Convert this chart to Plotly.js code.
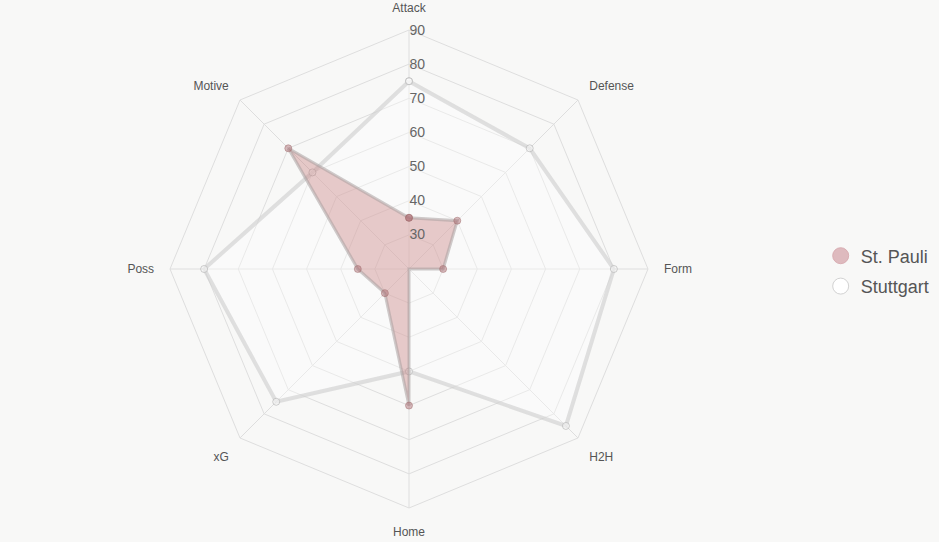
<!DOCTYPE html>
<html>
<head>
<meta charset="utf-8">
<script src="https://cdn.plot.ly/plotly-3.0.1.min.js"></script>
<style>html,body{margin:0;padding:0;background:#f8f8f7;}#chart{width:939px;height:542px;}</style>
</head>
<body>
<div id="chart"></div>
<script>
const categories = ["Attack", "Defense", "Form", "H2H", "Home", "xG", "Poss", "Motive"];
const stPauli = [35, 40, 30, 20, 60, 30, 35, 70];
const stuttgart = [75, 70, 80, 85, 50, 75, 80, 60];
const radialTicks = [30, 40, 50, 60, 70, 80, 90];

const closeLoop = a => a.concat([a[0]]);

const traces = [
  {
    type: "scatterpolar",
    name: "Stuttgart",
    r: closeLoop(stuttgart),
    theta: closeLoop(categories),
    mode: "lines+markers",
    fill: "toself",
    fillcolor: "rgba(255,255,255,0.35)",
    line: {color: "rgba(205,205,205,0.6)", width: 4},
    marker: {size: 7, color: "rgba(255,255,255,0.4)", line: {color: "rgba(190,190,190,0.8)", width: 1}},
    showlegend: false,
    hoverinfo: "skip"
  },
  {
    type: "scatterpolar",
    name: "St. Pauli",
    r: closeLoop(stPauli),
    theta: closeLoop(categories),
    mode: "lines+markers",
    fill: "toself",
    fillcolor: "rgba(196,120,120,0.38)",
    line: {color: "rgba(170,160,160,0.55)", width: 3},
    marker: {size: 7, color: "rgba(170,105,110,0.45)", line: {color: "rgba(160,110,110,0.5)", width: 1}},
    showlegend: false,
    hoverinfo: "skip"
  },
  {
    type: "scatterpolar",
    name: "St. Pauli",
    legendgroup: "a",
    r: [null], theta: [null],
    mode: "markers",
    marker: {size: 16, color: "rgba(215,170,175,0.8)", line: {color: "rgba(215,170,175,0.9)", width: 1}},
    showlegend: true
  },
  {
    type: "scatterpolar",
    name: "Stuttgart",
    legendgroup: "b",
    r: [null], theta: [null],
    mode: "markers",
    marker: {size: 16, color: "rgba(255,255,255,0.9)", line: {color: "rgba(210,210,210,1)", width: 1}},
    showlegend: true
  }
];

const layout = {
  width: 939,
  height: 542,
  margin: {l: 0, r: 0, t: 0, b: 0},
  paper_bgcolor: "#f8f8f7",
  plot_bgcolor: "#f8f8f7",
  font: {family: "Liberation Sans, Arial, sans-serif", color: "#555"},
  showlegend: true,
  legend: {
    x: 0.874, y: 0.5, xanchor: "left", yanchor: "middle",
    font: {size: 18, color: "#555"},
    bgcolor: "rgba(0,0,0,0)",
    tracegroupgap: 4
  },
  polar: {
    domain: {x: [170/939, 648/939], y: [1 - 508/542, 1 - 30/542]},
    bgcolor: "rgba(0,0,0,0)",
    gridshape: "linear",
    radialaxis: {
      range: [20, 90],
      tickvals: radialTicks,
      angle: 90,
      tickangle: 90,
      showline: false,
      ticks: "",
      gridcolor: "#dedede",
      gridwidth: 1,
      tickfont: {size: 14, color: "#666"}
    },
    angularaxis: {
      direction: "clockwise",
      rotation: 90,
      categoryarray: categories,
      type: "category",
      gridcolor: "#dedede",
      linecolor: "#dedede",
      linewidth: 1,
      ticks: "outside",
      ticklen: 13,
      tickcolor: "rgba(0,0,0,0)",
      tickfont: {size: 12, color: "#555"}
    }
  }
};

Plotly.newPlot("chart", traces, layout, {displayModeBar: false, staticPlot: true});
</script>
</body>
</html>
